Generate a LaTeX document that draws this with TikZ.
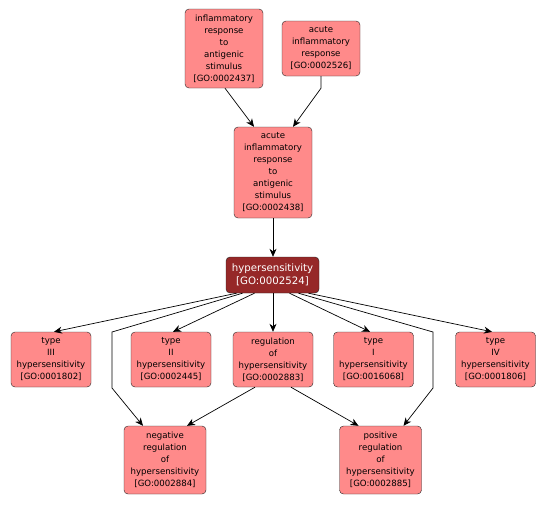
\documentclass[tikz,border=0pt]{standalone}
\usepackage{fontspec}
\setmainfont{DejaVu Sans}
\usetikzlibrary{arrows.meta}
\definecolor{gofill}{RGB}{255,138,138}
\definecolor{hfill}{RGB}{150,40,40}
\tikzset{
  goterm/.style={draw=black!85, fill=gofill, rounded corners=4pt, align=center,
    font=\fontsize{8.6}{12}\selectfont, inner sep=1pt, minimum width=80pt},
  hterm/.style={draw=black!85, fill=hfill, rounded corners=4pt, align=center,
    text=white, font=\fontsize{10.2}{12.5}\selectfont, inner sep=1pt,
    minimum width=93pt, minimum height=36pt},
  conn/.style={draw=black, line width=0.7pt, -{Stealth[length=8pt,width=7pt,inset=2.5pt]}}
}
\begin{document}
\begin{tikzpicture}[x=1pt,y=-1pt]
\useasboundingbox (0,0) rectangle (548,504);
\node[goterm, minimum height=79pt, minimum width=78pt] (A) at (224,48.5) {inflammatory\\response\\to\\antigenic\\stimulus\\{[}GO:0002437{]}};
\node[goterm, minimum height=55pt, minimum width=78pt] (B) at (321,48.5) {acute\\inflammatory\\response\\{[}GO:0002526{]}};
\node[goterm, minimum height=91pt, minimum width=78pt] (C) at (273,172.5) {acute\\inflammatory\\response\\to\\antigenic\\stimulus\\{[}GO:0002438{]}};
\node[hterm] (H) at (272.5,275) {hypersensitivity\\{[}GO:0002524{]}};
\node[goterm, minimum height=55pt] (T3) at (51,359.5) {type\\III\\hypersensitivity\\{[}GO:0001802{]}};
\node[goterm, minimum height=55pt] (T2) at (171,359.5) {type\\II\\hypersensitivity\\{[}GO:0002445{]}};
\node[goterm, minimum height=55pt] (R) at (273,359.5) {regulation\\of\\hypersensitivity\\{[}GO:0002883{]}};
\node[goterm, minimum height=55pt] (T1) at (373.5,359.5) {type\\I\\hypersensitivity\\{[}GO:0016068{]}};
\node[goterm, minimum height=55pt] (T4) at (495.5,359.5) {type\\IV\\hypersensitivity\\{[}GO:0001806{]}};
\node[goterm, minimum height=68pt, minimum width=82pt] (N) at (165,460) {negative\\regulation\\of\\hypersensitivity\\{[}GO:0002884{]}};
\node[goterm, minimum height=68pt, minimum width=82pt] (P) at (380.5,460) {positive\\regulation\\of\\hypersensitivity\\{[}GO:0002885{]}};
% connectors
\draw[conn] ([xshift=1pt]A.south) -- ([xshift=-19pt]C.north);
\draw[conn] (B.south) -- ++(0,12) -- ([xshift=20pt]C.north);
\draw[conn] (C.south) -- ([xshift=0.5pt]H.north);
\draw[conn] ([xshift=-36pt]H.south) -- ([xshift=3pt]T3.north);
\draw[conn] ([xshift=-30pt]H.south) -- (112,332) -- (112,388) -- ([xshift=-22pt]N.north);
\draw[conn] ([xshift=-18pt]H.south) -- ([xshift=2pt]T2.north);
\draw[conn] ([xshift=0.5pt]H.south) -- (R.north);
\draw[conn] ([xshift=17pt]H.south) -- ([xshift=-3.5pt]T1.north);
\draw[conn] ([xshift=26pt]H.south) -- (433,332) -- (433,388) -- ([xshift=23pt]P.north);
\draw[conn] ([xshift=36pt]H.south) -- ([xshift=-3.5pt]T4.north);
\draw[conn] ([xshift=-18pt]R.south) -- ([xshift=22pt]N.north);
\draw[conn] ([xshift=18pt]R.south) -- ([xshift=-22pt]P.north);
\end{tikzpicture}
\end{document}
